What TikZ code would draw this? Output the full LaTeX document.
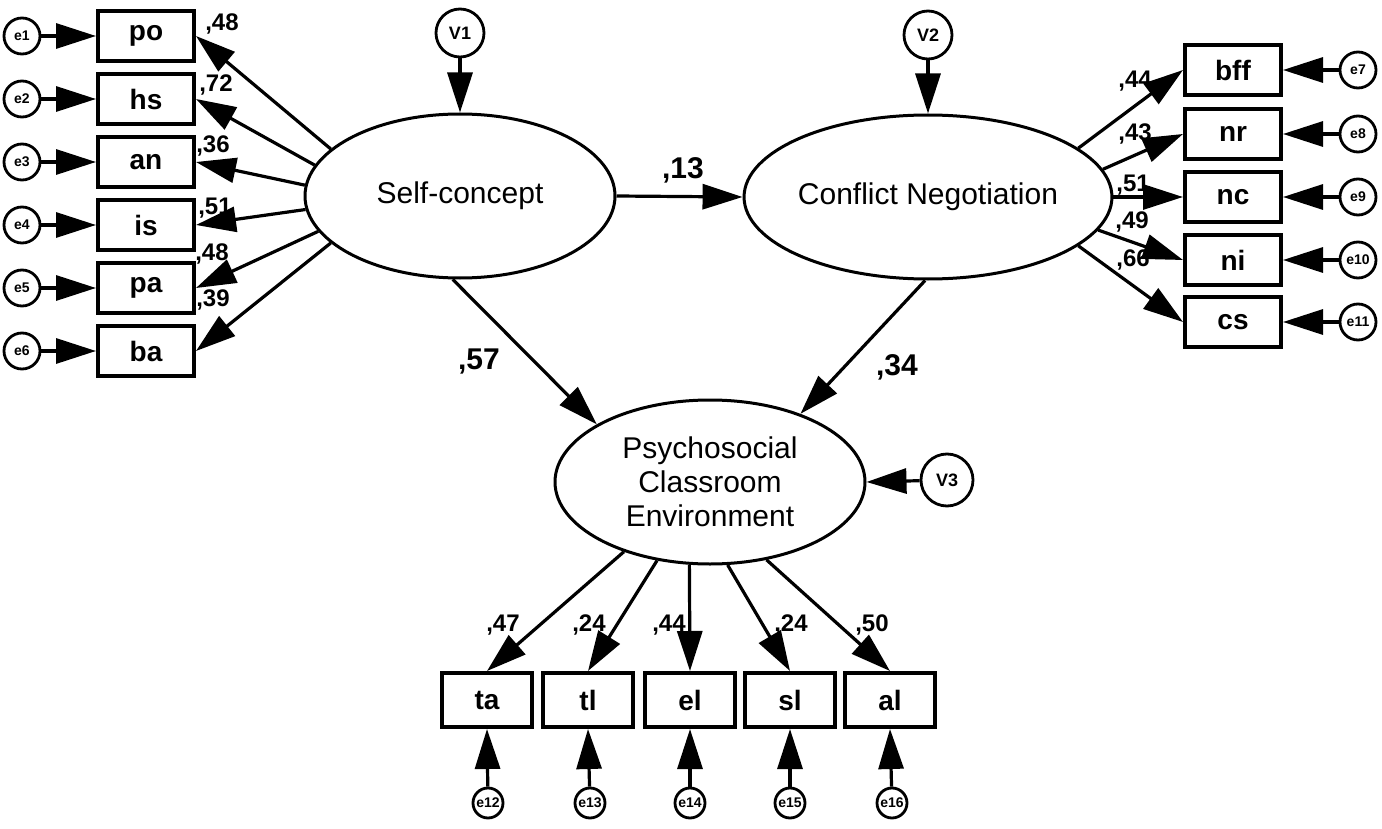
\documentclass[tikz,border=0pt]{standalone}
\usepackage{fontspec}
\setmainfont{Liberation Sans}
\usetikzlibrary{arrows.meta,shapes.geometric}
\tikzset{
  latent/.style={draw=black,ellipse,line width=1.5pt,minimum width=155pt,
                 minimum height=82pt,inner sep=0pt,align=center,
                 font=\fontsize{15}{17}\selectfont},
  obsbox/.style={draw=black,rectangle,line width=2pt,minimum width=48pt,
                 minimum height=25pt,inner sep=0pt,
                 font=\bfseries\fontsize{14}{16}\selectfont},
  lowbox/.style={obsbox,minimum width=45pt,minimum height=27pt},
  errc/.style={draw=black,circle,line width=1.4pt,minimum size=18pt,
               inner sep=0pt,font=\bfseries\fontsize{7}{8}\selectfont},
  lowerr/.style={errc,minimum size=15pt},
  distc/.style={draw=black,circle,line width=1.4pt,minimum size=24pt,
                inner sep=0pt,font=\bfseries\fontsize{9}{10}\selectfont},
  pth/.style={-{Triangle[length=20pt,width=12.5pt]},line width=1.6pt},
  load/.style={inner sep=0pt,font=\bfseries\fontsize{12}{14}\selectfont},
  coef/.style={inner sep=0pt,font=\bfseries\fontsize{15}{17}\selectfont}
}
\begin{document}
\begin{tikzpicture}[x=0.5pt,y=-0.5pt]
  \useasboundingbox (0,0) rectangle (1382,829);
  % latent variables and disturbances
  \node[latent] (sc) at (460,196) {Self-concept};
  \node[latent] (cn) at (928,197) {Conflict Negotiation};
  \node[latent] (pce) at (710,482) {Psychosocial\\Classroom\\Environment};
  \node[distc] (v1) at (460,33) {V1};
  \node[distc] (v2) at (928,35) {V2};
  \node[distc,minimum size=26pt] (v3) at (947,480) {V3};
  % self-concept indicators
  \node[obsbox] (po) at (146,36) {po};
  \node[obsbox] (hs) at (146,99) {hs};
  \node[obsbox] (an) at (146,162) {an};
  \node[obsbox] (is) at (146,225) {is};
  \node[obsbox] (pa) at (146,288) {pa};
  \node[obsbox] (ba) at (146,351) {ba};
  \node[errc] (e1) at (22,36) {e1};
  \node[errc] (e2) at (22,99) {e2};
  \node[errc] (e3) at (22,162) {e3};
  \node[errc] (e4) at (22,225) {e4};
  \node[errc] (e5) at (22,288) {e5};
  \node[errc] (e6) at (22,351) {e6};
  % conflict negotiation indicators
  \node[obsbox] (bff) at (1233,70) {bff};
  \node[obsbox] (nr) at (1233,134) {nr};
  \node[obsbox] (nc) at (1233,197) {nc};
  \node[obsbox] (ni) at (1233,260) {ni};
  \node[obsbox] (cs) at (1233,322) {cs};
  \node[errc] (e7) at (1358,70) {e7};
  \node[errc] (e8) at (1358,134) {e8};
  \node[errc] (e9) at (1358,197) {e9};
  \node[errc] (e10) at (1358,260) {e10};
  \node[errc] (e11) at (1358,322) {e11};
  % classroom environment indicators
  \node[lowbox] (ta) at (487,700) {ta};
  \node[lowbox] (tl) at (588,700) {tl};
  \node[lowbox] (el) at (690,700) {el};
  \node[lowbox] (sl) at (790,700) {sl};
  \node[lowbox] (al) at (890,700) {al};
  \node[lowerr] (e12) at (488,803) {e12};
  \node[lowerr] (e13) at (590,803) {e13};
  \node[lowerr] (e14) at (690,803) {e14};
  \node[lowerr] (e15) at (790,803) {e15};
  \node[lowerr] (e16) at (892,803) {e16};
  % structural paths
  \draw[pth] (v1) -- (sc.north);
  \draw[pth] (v2) -- (cn.north);
  \draw[pth] (v3) -- (pce.east);
  \draw[pth] (sc.east) -- (cn.west);
  \draw[pth] (sc.265) -- (pce.153);
  \draw[pth] (cn.268) -- (pce.37);
  \node[coef] (c13) at (683,170) {,13};
  \node[coef] (c57) at (479,362) {,57};
  \node[coef] (c34) at (897,367) {,34};
  % loadings
  \draw[pth] (sc.160) -- (po.east);
  \draw[pth] (sc.168) -- (hs.east);
  \draw[pth] (sc.176) -- (an.east);
  \draw[pth] (sc.185) -- (is.east);
  \draw[pth] (sc.194) -- (pa.east);
  \draw[pth] (sc.200) -- (ba.east);
  \draw[pth] (cn.18) -- (bff.west);
  \draw[pth] (cn.9) -- (nr.west);
  \draw[pth] (cn.0) -- (nc.west);
  \draw[pth] (cn.-11) -- (ni.west);
  \draw[pth] (cn.-18) -- (cs.west);
  \draw[pth] (pce.219) -- (ta.north);
  \draw[pth] (pce.236) -- (tl.north);
  \draw[pth] (pce.256) -- (el.north);
  \draw[pth] (pce.282) -- (sl.north);
  \draw[pth] (pce.306) -- (al.north);
  \node[load] at (222,24) {,48};
  \node[load] at (216,85) {,72};
  \node[load] at (213,146) {,36};
  \node[load] at (215,208) {,51};
  \node[load] at (212,254) {,48};
  \node[load] at (213,300) {,39};
  \node[load] at (1135,81) {,44};
  \node[load] at (1135,134) {,43};
  \node[load] at (1133,185) {,51};
  \node[load] at (1132,222) {,49};
  \node[load] at (1133,260) {,66};
  \node[load] at (503,625) {,47};
  \node[load] at (589,625) {,24};
  \node[load] at (669,625) {,44};
  \node[load] at (791,625) {,24};
  \node[load] at (872,625) {,50};
  % measurement errors
  \draw[pth] (e1) -- (po.west);
  \draw[pth] (e2) -- (hs.west);
  \draw[pth] (e3) -- (an.west);
  \draw[pth] (e4) -- (is.west);
  \draw[pth] (e5) -- (pa.west);
  \draw[pth] (e6) -- (ba.west);
  \draw[pth] (e7) -- (bff.east);
  \draw[pth] (e8) -- (nr.east);
  \draw[pth] (e9) -- (nc.east);
  \draw[pth] (e10) -- (ni.east);
  \draw[pth] (e11) -- (cs.east);
  \draw[pth] (e12) -- (ta.south);
  \draw[pth] (e13) -- (tl.south);
  \draw[pth] (e14) -- (el.south);
  \draw[pth] (e15) -- (sl.south);
  \draw[pth] (e16) -- (al.south);
\end{tikzpicture}
\end{document}
